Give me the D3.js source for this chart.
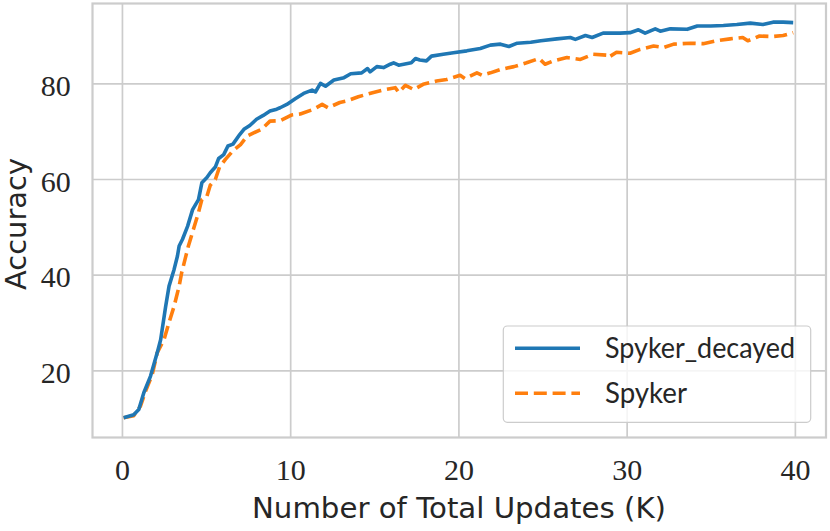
<!DOCTYPE html>
<html>
<head>
<meta charset="utf-8">
<script src="https://cdn.jsdelivr.net/npm/d3@7"></script>
<style>
  html, body { margin: 0; padding: 0; background: #ffffff; }
  svg { display: block; }
</style>
</head>
<body>
<svg id="chart" width="830" height="531"></svg>
<script>
// ---- data ----
const decayedX = [0.1,0.7,1.0,1.3,1.7,2.1,2.3,2.6,2.8,3.1,3.3,3.4,3.6,3.9,4.2,4.55,4.75,5.05,5.25,5.55,5.75,6.05,6.3,6.6,7.0,7.25,7.6,8.0,8.4,8.8,9.2,9.4,9.8,10.3,10.8,11.3,11.5,11.8,12.1,12.6,13.2,13.6,14.25,14.6,14.75,15.15,15.55,15.95,16.15,16.45,17.2,17.45,17.7,18.1,18.4,19.1,19.7,20.5,21.3,21.9,22.5,23.0,23.5,24.3,24.9,25.85,26.65,26.95,27.55,27.95,28.6,29.6,30.2,30.7,31.1,31.7,32.0,32.6,33.6,34.2,35.0,35.75,36.55,37.35,38.1,38.7,39.3,39.9];
const decayedY = [10.1,10.7,11.8,15.3,18.8,23.7,26.4,33.4,37.6,41.1,43.9,46.0,47.4,50.1,53.6,55.7,59.2,60.3,61.3,62.5,64.3,65.1,66.9,67.3,69.3,70.4,71.2,72.5,73.3,74.2,74.6,74.9,75.6,76.8,77.9,78.6,78.2,80.0,79.4,80.7,81.2,82.0,82.2,83.1,82.4,83.5,83.3,84.0,84.3,83.8,84.3,85.2,84.9,84.7,85.7,86.1,86.4,86.8,87.3,88.0,88.2,87.7,88.4,88.6,88.9,89.3,89.6,89.2,90.0,89.6,90.5,90.5,90.6,91.2,90.5,91.4,90.9,91.4,91.3,92.0,92.0,92.1,92.3,92.6,92.3,92.8,92.8,92.7];

const spykerX = [0.1,0.7,1.1,1.4,1.8,2.1,2.5,2.8,3.1,3.4,3.55,3.75,3.95,4.25,4.55,4.75,5.05,5.25,5.55,5.8,6.15,6.6,7.05,7.45,7.8,8.3,8.8,9.4,10.1,10.6,11.4,11.9,12.25,12.95,13.35,14.05,14.95,15.65,16.25,16.45,16.85,17.35,17.9,18.7,19.3,20.1,20.4,21.1,21.4,21.9,22.5,23.3,24.05,24.8,25.15,25.65,26.45,27.25,28.0,28.8,28.9,29.4,30.2,30.8,31.6,32.2,32.8,33.8,34.55,35.35,36.15,36.9,37.2,37.9,38.7,39.3,39.9];
const spykerY = [10.1,10.5,12.5,15.6,19.1,23.7,26.4,30.0,33.4,37.6,40.4,43.2,46.0,49.5,53.0,55.7,56.4,58.7,59.9,62.5,64.1,65.9,67.2,69.0,69.6,70.4,72.1,72.2,73.4,73.6,74.6,75.6,74.9,76.0,76.3,77.2,78.1,78.7,79.1,78.1,79.6,78.7,79.8,80.5,80.8,81.7,81.0,82.2,81.7,82.2,82.9,83.5,84.3,85.2,84.0,84.7,85.4,85.0,86.1,85.9,85.4,86.5,86.3,87.1,87.8,87.5,88.2,88.4,88.3,88.9,89.3,89.6,88.9,89.9,89.8,90.0,90.6];

const seriesNames = ["Spyker_decayed", "Spyker"];
const xTicks = [0, 10, 20, 30, 40];
const yTicks = [20, 40, 60, 80];
const xLabel = "Number of Total Updates (K)";
const yLabel = "Accuracy";

// ---- layout ----
const L = 92.5, R = 826, T = 3.5, B = 437.5;
const svg = d3.select("#chart");
const x = d3.scaleLinear().domain([-1.75, 41.85]).range([L, R]);
const y = d3.scaleLinear().domain([5.95, 96.7]).range([B, T]);

const gridColor = "#cccccc";
const textColor = "#262626";

// grid via axes
const gx = svg.append("g").attr("transform", `translate(0,${B})`)
  .call(d3.axisBottom(x).tickValues(xTicks).tickSize(-(B - T)).tickFormat(d3.format("d")));
gx.select(".domain").remove();
gx.selectAll(".tick line").attr("stroke", gridColor).attr("stroke-width", 1.7);
gx.selectAll(".tick text")
  .attr("y", 42.5).attr("dy", null)
  .attr("fill", textColor)
  .style("font-family", "'Liberation Serif', serif")
  .style("font-size", "30px");

const gy = svg.append("g").attr("transform", `translate(${L},0)`)
  .call(d3.axisLeft(y).tickValues(yTicks).tickSize(-(R - L)).tickFormat(d3.format("d")));
gy.select(".domain").remove();
gy.selectAll(".tick line").attr("stroke", gridColor).attr("stroke-width", 1.7);
gy.selectAll(".tick text")
  .attr("x", 70.7 - L).attr("dy", null).attr("y", 12)
  .attr("fill", textColor)
  .style("font-family", "'Liberation Serif', serif")
  .style("font-size", "30px");

// frame
svg.append("rect").attr("x", L).attr("y", T).attr("width", R - L).attr("height", B - T)
  .attr("fill", "none").attr("stroke", gridColor).attr("stroke-width", 2.2);

// lines
const line = d3.line().x(d => x(d[0])).y(d => y(d[1]));
const decayed = decayedX.map((v, i) => [v, decayedY[i]]);
const spyker = spykerX.map((v, i) => [v, spykerY[i]]);

svg.append("path").datum(spyker)
  .attr("d", line).attr("fill", "none")
  .attr("stroke", "#ff7f0e").attr("stroke-width", 3.6)
  .attr("stroke-dasharray", "13,5.8").attr("stroke-linejoin", "round");

svg.append("path").datum(decayed)
  .attr("d", line).attr("fill", "none")
  .attr("stroke", "#1f77b4").attr("stroke-width", 3.6)
  .attr("stroke-linejoin", "round");

// axis labels
svg.append("text").attr("x", (252 + 666) / 2).attr("y", 518.3)
  .attr("text-anchor", "middle").attr("fill", textColor)
  .style("font-family", "'DejaVu Sans', sans-serif").style("font-size", "29px")
  .attr("textLength", 414).attr("lengthAdjust", "spacingAndGlyphs")
  .text(xLabel);

svg.append("text")
  .attr("transform", `translate(26,224) rotate(-90)`)
  .attr("text-anchor", "middle").attr("fill", textColor)
  .style("font-family", "'DejaVu Sans', sans-serif").style("font-size", "28px")
  .attr("textLength", 132).attr("lengthAdjust", "spacingAndGlyphs")
  .text(yLabel);

// legend
const lg = svg.append("g");
lg.append("rect").attr("x", 503.3).attr("y", 326).attr("width", 307.4).attr("height", 96.3)
  .attr("rx", 4).attr("fill", "#ffffff").attr("fill-opacity", 0.8)
  .attr("stroke", gridColor).attr("stroke-width", 1.2);
const legendItems = [
  {name: seriesNames[0], color: "#1f77b4", dash: null, ly: 348.3, ty: 358.3, len: 190},
  {name: seriesNames[1], color: "#ff7f0e", dash: "13,5.8", ly: 393.3, ty: 402.7, len: 82}
];
legendItems.forEach(it => {
  lg.append("line").attr("x1", 515).attr("x2", 580).attr("y1", it.ly).attr("y2", it.ly)
    .attr("stroke", it.color).attr("stroke-width", 3.6)
    .attr("stroke-dasharray", it.dash);
  lg.append("text").attr("x", 605).attr("y", it.ty).attr("fill", textColor)
    .style("font-family", "Lato, sans-serif").style("font-size", "29px")
    .attr("textLength", it.len).attr("lengthAdjust", "spacingAndGlyphs")
    .text(it.name);
});
</script>
</body>
</html>
